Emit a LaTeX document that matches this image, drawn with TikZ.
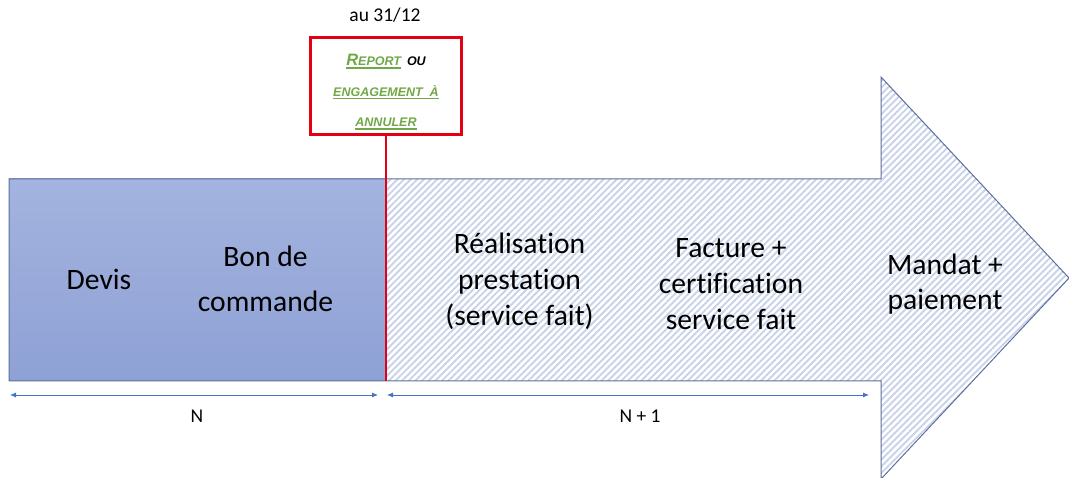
\documentclass[tikz,border=0pt]{standalone}
\usepackage{fontspec}
\setmainfont{Carlito}[Ligatures=NoCommon]
\newfontfamily\cutfont{Liberation Sans}
\usetikzlibrary{arrows.meta,patterns.meta}

\definecolor{hatchblue}{RGB}{200,210,232}
\definecolor{outlineblue}{RGB}{93,111,156}
\definecolor{pasttop}{RGB}{164,179,223}
\definecolor{pastbot}{RGB}{142,161,213}
\definecolor{cutred}{RGB}{226,0,18}
\definecolor{cutgreen}{RGB}{112,168,71}
\definecolor{dimblue}{RGB}{68,114,196}

% green underline drawn below a word
\newcommand\greenul[1]{\setbox0\hbox{#1}{\color{cutgreen}\rlap{\rule[-3pt]{\wd0}{1.2pt}}}\box0}
% larger capital for the faked small caps
\newcommand\bigR[1]{{\fontsize{16.5}{30.5}\selectfont #1}}

\begin{document}
\begin{tikzpicture}[x=1pt,y=1pt,
  steptext/.style={font=\fontsize{29.6}{36}\selectfont, align=center, text=black, inner sep=0pt},
  smalltext/.style={font=\fontsize{19.5}{23}\selectfont, inner sep=0pt},
  cutbox/.style={draw=cutred, line width=2.7pt, minimum width=151pt, minimum height=97pt, inner sep=0pt},
  cutline/.style={draw=cutred, line width=2.8pt},
  dimline/.style={draw=dimblue, line width=0.8pt, {Latex[length=6pt,width=5pt]}-{Latex[length=6pt,width=5pt]}},
]
\useasboundingbox (0,0) rectangle (1069,477);

% hatched arrow for year N+1
\path[pattern={Lines[angle=45,distance=4.7pt,line width=1.9pt]}, pattern color=hatchblue]
  (9,96) -- (9,298) -- (881,298) -- (881,400) -- (1069,199) -- (881,-2) -- (881,96) -- cycle;

% year N part, filled
\shade[top color=pasttop, bottom color=pastbot] (9,96) rectangle (386,298);

% outline of the whole arrow
\draw[outlineblue, line width=1pt, line join=miter]
  (9,96) -- (9,298) -- (881,298) -- (881,400) -- (1069,199) -- (881,-2) -- (881,96) -- cycle;

% cut-off at 31/12
\node[cutbox] (cut) at (386,391) {};
\coordinate (cutfoot) at (386,96);
\draw[cutline] (cut.south) -- (cutfoot);
\node[inner sep=0pt, align=center,
      font=\cutfont\bfseries\itshape\fontsize{12.5}{30.5}\selectfont] (cuttext) at (386,385)
  {\greenul{\textcolor{cutgreen}{\bigR{R}EPORT}}\hspace{6pt}OU\\
   \greenul{\textcolor{cutgreen}{ENGAGEMENT\ \ À}}\\
   \greenul{\textcolor{cutgreen}{ANNULER}}};
\node[smalltext, anchor=base] (date) at (385,455) {au 31/12};

% steps
\node[steptext] (devis) at (99,197.5) {Devis};
\node[steptext, font=\fontsize{29.6}{45}\selectfont] (bdc) at (265.5,198) {Bon de\\commande};
\node[steptext] (real) at (519.5,196) {Réalisation\\prestation\\(service fait)};
\node[steptext] (fact) at (731,193) {Facture +\\certification\\service fait};
\node[steptext, font=\fontsize{29.6}{35}\selectfont] (mandat) at (945,193) {Mandat +\\paiement};

% year spans
\coordinate (nA) at (10,82);
\coordinate (nB) at (378,82);
\coordinate (mA) at (387,82);
\coordinate (mB) at (869,82);
\draw[dimline] (nA) -- (nB);
\draw[dimline] (mA) -- (mB);
\node[smalltext, anchor=base] (yearN) at (197,54) {N};
\node[smalltext, anchor=base] (yearN1) at (640,54) {N + 1};
\end{tikzpicture}
\end{document}
